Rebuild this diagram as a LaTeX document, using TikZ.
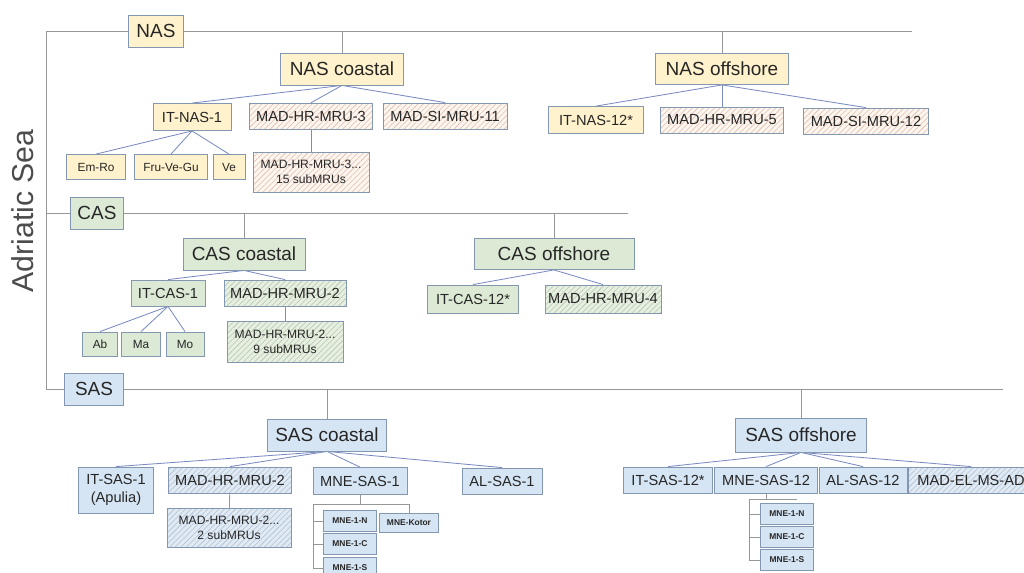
\documentclass[tikz,border=0pt]{standalone}
\usepackage{fontspec}
\setmainfont{Liberation Sans}
\usetikzlibrary{patterns.meta,backgrounds}
\definecolor{nasfill}{HTML}{FFF2CC}
\definecolor{casfill}{HTML}{DCEAD5}
\definecolor{sasfill}{HTML}{D6E5F4}
\definecolor{nasbg}{HTML}{FCF6F0}
\definecolor{casbg}{HTML}{E6F0E0}
\definecolor{sasbg}{HTML}{E0EAF5}
\definecolor{nasstripe}{HTML}{E6BBA8}
\definecolor{casstripe}{HTML}{B9C2B0}
\definecolor{sasstripe}{HTML}{B0BFD0}
\definecolor{boxline}{HTML}{8497B0}
\definecolor{trunkline}{HTML}{979797}
\definecolor{edgeline}{HTML}{7B8BC2}

\tikzset{
  sz/.style 2 args={minimum width=#1*0.025cm, minimum height=#2*0.025cm},
  box/.style={draw=boxline, line width=0.6pt, inner sep=0pt, align=center, text=black!85},
  big/.style={box, font=\fontsize{13.5}{16}\selectfont},
  mid/.style={box, font=\fontsize{10.4}{13}\selectfont},
  low/.style={box, font=\fontsize{8.4}{11}\selectfont},
  tiny/.style={box, font=\fontsize{6}{7}\selectfont\bfseries},
  nas/.style={fill=nasfill},
  cas/.style={fill=casfill},
  sas/.style={fill=sasfill},
  nashatch/.style={preaction={fill=nasbg}, pattern={Lines[angle=45,distance=2.8pt,line width=0.4pt]}, pattern color=nasstripe},
  cashatch/.style={preaction={fill=casbg}, pattern={Lines[angle=45,distance=2.8pt,line width=0.4pt]}, pattern color=casstripe},
  sashatch/.style={preaction={fill=sasbg}, pattern={Lines[angle=45,distance=2.8pt,line width=0.4pt]}, pattern color=sasstripe},
  trunk/.style={draw=trunkline, line width=0.6pt},
  edge/.style={draw=edgeline, line width=0.6pt},
}

\begin{document}
\begin{tikzpicture}[x=0.025cm, y=-0.025cm]
\useasboundingbox (0,0) rectangle (1024,572);
\clip (0,0) rectangle (1024,572);

% Adriatic Sea
\node[rotate=90, font=\fontsize{21.5}{26}\selectfont, text=black!70] (sea) at (23,211) {Adriatic Sea};
\coordinate (trunktop) at (46,31);
\coordinate (trunkbot) at (46,389);

% NAS
\node[big, nas, sz={55}{32}] (nas) at (156,31) {NAS};
\coordinate (nasend) at (912,31);
\node[big, nas, sz={123}{32}] (nasc) at (342,69) {NAS coastal};
\node[big, nas, sz={133}{31}] (naso) at (722,69) {NAS offshore};
\node[mid, nas, sz={78}{27}] (itnas1) at (192,117) {IT-NAS-1};
\node[mid, nashatch, sz={123}{26}] (nashr3) at (311,116) {MAD-HR-MRU-3};
\node[mid, nashatch, sz={124}{26}] (nassi11) at (445,116) {MAD-SI-MRU-11};
\node[low, nas, sz={59}{25}] (emro) at (96,167) {Em-Ro};
\node[low, nas, sz={73}{25}] (fru) at (171,167) {Fru-Ve-Gu};
\node[low, nas, sz={32}{25}] (ve) at (229,167) {Ve};
\node[low, nashatch, sz={116}{40}, font=\fontsize{8.6}{11}\selectfont] (nashr3sub) at (311,172) {MAD-HR-MRU-3...\\15 subMRUs};
\node[mid, nas, sz={95}{27}] (itnas12) at (596,120) {IT-NAS-12*};
\node[mid, nashatch, sz={123}{26}] (nashr5) at (722,120) {MAD-HR-MRU-5};
\node[mid, nashatch, sz={125}{26}] (nassi12) at (866,121) {MAD-SI-MRU-12};

% CAS
\node[big, cas, sz={53}{32}] (cas) at (97,213) {CAS};
\coordinate (casend) at (628,213);
\node[big, cas, sz={122}{32}] (casc) at (244,254) {CAS coastal};
\node[big, cas, sz={160}{31}] (caso) at (554,254) {CAS offshore};
\node[mid, cas, sz={74}{26}] (itcas1) at (168,293) {IT-CAS-1};
\node[mid, cashatch, sz={122}{26}] (cashr2) at (285,293) {MAD-HR-MRU-2};
\node[low, cas, sz={35}{24}] (ab) at (100,344) {Ab};
\node[low, cas, sz={39}{24}] (ma) at (141,344) {Ma};
\node[low, cas, sz={38}{24}] (mo) at (185,344) {Mo};
\node[low, cashatch, sz={116}{41}, font=\fontsize{8.6}{11}\selectfont] (cashr2sub) at (285,342) {MAD-HR-MRU-2...\\9 subMRUs};
\node[mid, cas, sz={91}{28}] (itcas12) at (473,299) {IT-CAS-12*};
\node[mid, cashatch, sz={116}{28}] (cashr4) at (603,299) {MAD-HR-MRU-4};

% SAS
\node[big, sas, sz={59}{32}] (sas) at (94,389) {SAS};
\coordinate (sasend) at (1003,389);
\node[big, sas, sz={119}{32}] (sasc) at (327,435) {SAS coastal};
\node[big, sas, sz={131}{34}] (saso) at (801,435) {SAS offshore};
\node[mid, sas, sz={75}{46}] (itsas1) at (116,490) {IT-SAS-1\\(Apulia)};
\node[mid, sashatch, sz={123}{26}] (sashr2) at (230,480) {MAD-HR-MRU-2};
\node[mid, sas, sz={94}{27}] (mnesas1) at (360,481) {MNE-SAS-1};
\node[mid, sas, sz={80}{26}] (alsas1) at (502,481) {AL-SAS-1};
\node[low, sashatch, sz={124}{39}, font=\fontsize{8.6}{11}\selectfont] (sashr2sub) at (229,528) {MAD-HR-MRU-2...\\2 subMRUs};
\node[tiny, sas, sz={53}{21}] (mne1n) at (350,521) {MNE-1-N};
\node[tiny, sas, sz={59}{19}] (kotor) at (409,523) {MNE-Kotor};
\node[tiny, sas, sz={53}{21}] (mne1c) at (350,544) {MNE-1-C};
\node[tiny, sas, sz={53}{21}] (mne1s) at (350,568) {MNE-1-S};
\node[mid, sas, sz={89}{26}] (itsas12) at (668,480) {IT-SAS-12*};
\node[mid, sas, sz={103}{26}] (mnesas12) at (766,480) {MNE-SAS-12};
\node[mid, sas, sz={88}{26}] (alsas12) at (863,480) {AL-SAS-12};
\node[mid, sashatch, sz={126}{26}] (madel) at (971,480) {MAD-EL-MS-AD};
\node[tiny, sas, sz={53}{21}] (m12n) at (787,514) {MNE-1-N};
\node[tiny, sas, sz={53}{21}] (m12c) at (787,537) {MNE-1-C};
\node[tiny, sas, sz={53}{21}] (m12s) at (787,560) {MNE-1-S};

\begin{scope}[on background layer]
% trunk lines
\draw[trunk] (nasend) -- (trunktop) -- (trunkbot) -- (sasend);
\draw[trunk] (trunktop |- cas) -- (casend);
\draw[trunk] (nasc) -- (nasc |- nas);
\draw[trunk] (naso) -- (naso |- nas);
\draw[trunk] (casc) -- (casc |- cas);
\draw[trunk] (caso) -- (caso |- cas);
\draw[trunk] (sasc) -- (sasc |- sas);
\draw[trunk] (saso) -- (saso |- sas);

% NAS edges
\foreach \c in {itnas1,nashr3,nassi11} \draw[edge] (nasc.south) -- (\c.north);
\foreach \c in {itnas12,nashr5,nassi12} \draw[edge] (naso.south) -- (\c.north);
\foreach \c in {emro,fru,ve} \draw[edge] (itnas1.south) -- (\c.north);
\draw[edge] (nashr3) -- (nashr3sub);

% CAS edges
\foreach \c in {itcas1,cashr2} \draw[edge] (casc.south) -- (\c.north);
\foreach \c in {itcas12,cashr4} \draw[edge] (caso.south) -- (\c.north);
\foreach \c in {ab,ma,mo} \draw[edge] (itcas1.south) -- (\c.north);
\draw[edge] (cashr2) -- (cashr2sub);

% SAS edges
\foreach \c in {itsas1,sashr2,mnesas1,alsas1} \draw[edge] (sasc.south) -- (\c.north);
\foreach \c in {itsas12,mnesas12,alsas12,madel} \draw[edge] (saso.south) -- (\c.north);
\draw[trunk] (sashr2) -- (sashr2sub);

% MNE subunits
\coordinate (m1t) at (313,504);
\draw[trunk] (mnesas1) -- (mnesas1 |- m1t);
\draw[trunk] (m1t) -- (m1t -| kotor) -- (kotor);
\draw[trunk] (m1t) |- (mne1s.west);
\draw[trunk] (m1t |- mne1n.west) -- (mne1n.west);
\draw[trunk] (m1t |- mne1c.west) -- (mne1c.west);
\coordinate (m12t) at (749,499);
\coordinate (m12r) at (797,499);
\draw[trunk] (mnesas12) -- (mnesas12 |- m12t);
\draw[trunk] (m12r) -- (m12t) |- (m12s.west);
\draw[trunk] (m12t |- m12n.west) -- (m12n.west);
\draw[trunk] (m12t |- m12c.west) -- (m12c.west);
\end{scope}
\end{tikzpicture}
\end{document}
